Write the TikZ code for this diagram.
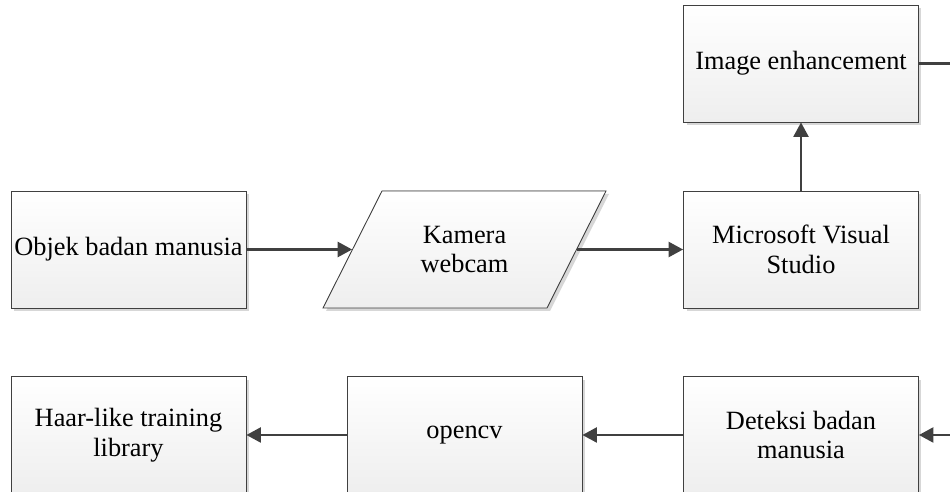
\documentclass[tikz,border=0pt]{standalone}
\usepackage{fontspec}
\setmainfont{Liberation Serif}
\usetikzlibrary{arrows.meta, shadows}
\definecolor{linecolor}{RGB}{64,64,64}
\definecolor{shadecolor}{RGB}{238,238,238}
\definecolor{shadowcolor}{RGB}{215,215,215}

\begin{document}
\begin{tikzpicture}[x=0.02cm, y=-0.02cm,
    procbox/.style={draw=linecolor, line width=0.5pt, top color=white, bottom color=shadecolor,
        minimum width=4.7cm, minimum height=2.34cm, align=center, inner sep=0pt,
        font=\fontsize{15}{17}\selectfont,
        drop shadow={shadow xshift=0.06cm, shadow yshift=-0.06cm, fill=shadowcolor, opacity=1}},
    flow/.style={draw=linecolor, line width=1.4pt, -{Triangle[length=0.29cm, width=0.3cm]}},
]
    \useasboundingbox (0,0) rectangle (950,492);
    % top row
    \node[procbox] (obj) at (128.5,249.5) {Objek badan manusia};
    \filldraw[draw=linecolor, line width=0.5pt, top color=white, bottom color=shadecolor,
        drop shadow={shadow xshift=0.06cm, shadow yshift=-0.06cm, fill=shadowcolor, opacity=1}]
        (382,191) -- (606,191) -- (547,308) -- (323,308) -- cycle;
    \node[minimum width=4.48cm, minimum height=2.34cm, align=center, inner sep=0pt,
        font=\fontsize{15}{17}\selectfont] (kam) at (464.5,249.5) {Kamera\\webcam};
    \node[procbox] (mvs) at (801,249.5) {Microsoft Visual\\Studio};
    \node[procbox] (enh) at (801,63.5) {Image enhancement};
    % bottom row
    \node[procbox] (det) at (801,435) {Deteksi badan\\manusia};
    \node[procbox] (ocv) at (464.5,435) {opencv};
    \node[procbox] (haar) at (128.5,435) {Haar-like training\\library};

    \draw[flow] (obj) -- (kam);
    \draw[flow] (kam) -- (mvs);
    \draw[flow] (mvs) -- (enh);
    \draw[flow] (enh.east) -- ++(1.2cm,0) |- (det.east);
    \draw[flow] (det) -- (ocv);
    \draw[flow] (ocv) -- (haar);
\end{tikzpicture}
\end{document}
